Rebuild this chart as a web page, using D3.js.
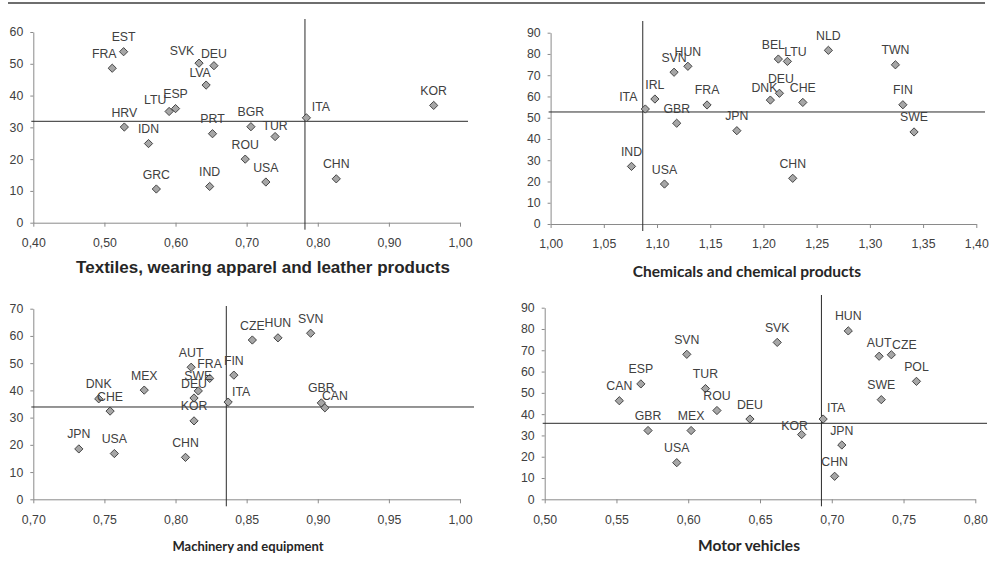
<!DOCTYPE html>
<html>
<head>
<meta charset="utf-8">
<script src="https://cdn.jsdelivr.net/npm/d3@7"></script>
<style>
  html, body { margin: 0; padding: 0; background: #fff; }
  svg { display: block; }
  .tick text, .pt-label { font-family: "Liberation Sans", Arial, sans-serif; fill: #404040; }
</style>
</head>
<body>
<script>
// ---- Textiles, wearing apparel and leather products ----
const textilesCodes = ["EST","FRA","SVK","DEU","LVA","LTU","ESP","HRV","IDN","PRT","GRC","IND","BGR","TUR","ROU","USA","ITA","CHN","KOR"];
const textilesX = [0.527,0.511,0.633,0.654,0.643,0.591,0.600,0.528,0.562,0.652,0.573,0.648,0.706,0.740,0.698,0.727,0.784,0.826,0.963];
const textilesY = [53.8,48.6,50.2,49.4,43.3,35.0,35.9,30.1,24.9,28.0,10.6,11.4,30.2,27.1,20.0,12.8,33.0,13.8,36.9];
const textilesRef = [0.782, 31.9];
const textilesXTicks = [0.40,0.50,0.60,0.70,0.80,0.90,1.00];
const textilesYTicks = [0,10,20,30,40,50,60];

// ---- Chemicals and chemical products ----
const chemicalsCodes = ["ITA","IRL","SVN","HUN","FRA","GBR","JPN","IND","USA","BEL","LTU","NLD","TWN","DNK","DEU","CHE","FIN","SWE","CHN"];
const chemicalsX = [1.089,1.098,1.116,1.129,1.147,1.1185,1.175,1.076,1.107,1.214,1.2225,1.261,1.324,1.2065,1.215,1.237,1.331,1.3415,1.2275];
const chemicalsY = [54.1,58.8,71.4,74.2,56.0,47.4,43.9,27.1,18.8,77.6,76.5,81.7,74.9,58.3,61.5,57.2,56.1,43.3,21.5];
const chemicalsRef = [1.0866, 52.7];
const chemicalsXTicks = [1.00,1.05,1.10,1.15,1.20,1.25,1.30,1.35,1.40];
const chemicalsYTicks = [0,10,20,30,40,50,60,70,80,90];

// ---- Machinery and equipment ----
const machineryCodes = ["JPN","USA","DNK","CHE","MEX","AUT","FRA","SWE","DEU","KOR","CHN","FIN","ITA","CZE","HUN","SVN","GBR","CAN"];
const machineryX = [0.732,0.757,0.746,0.754,0.778,0.811,0.824,0.816,0.813,0.813,0.807,0.841,0.837,0.854,0.872,0.895,0.9025,0.905];
const machineryY = [18.5,16.8,36.9,32.4,40.1,48.5,44.4,39.8,37.2,28.8,15.4,45.6,35.7,58.5,59.3,61.0,35.4,33.6];
const machineryRef = [0.8357, 33.9];
const machineryXTicks = [0.70,0.75,0.80,0.85,0.90,0.95,1.00];
const machineryYTicks = [0,10,20,30,40,50,60,70];

// ---- Motor vehicles ----
const motorCodes = ["CAN","ESP","SVN","TUR","ROU","GBR","MEX","USA","DEU","SVK","HUN","AUT","CZE","POL","SWE","ITA","KOR","JPN","CHN"];
const motorX = [0.552,0.567,0.599,0.612,0.620,0.572,0.602,0.592,0.643,0.662,0.7115,0.733,0.7415,0.759,0.7345,0.694,0.679,0.707,0.702];
const motorY = [46.3,54.2,68.1,52.0,41.7,32.3,32.3,17.2,37.7,73.7,79.1,67.2,67.9,55.4,46.8,37.7,30.4,25.5,10.8];
const motorRef = [0.6928, 35.7];
const motorXTicks = [0.50,0.55,0.60,0.65,0.70,0.75,0.80];
const motorYTicks = [0,10,20,30,40,50,60,70,80,90];

const W = 991, H = 576;
const svg = d3.select("body").append("svg").attr("width", W).attr("height", H);

// rule along the top of the figure
svg.append("line")
  .attr("x1", 8).attr("x2", 985).attr("y1", 3).attr("y2", 3)
  .attr("stroke", "#6e6e6e").attr("stroke-width", 2);

const commaFmt = v => d3.format(".2f")(v).replace(".", ",");

const panels = [
  {
    title: "Textiles, wearing apparel and leather products",
    titleFont: "bold 17px 'Liberation Sans', Arial, sans-serif", titleX: 263, titleY: 273,
    codes: textilesCodes, xs: textilesX, ys: textilesY, ref: textilesRef,
    xTicks: textilesXTicks, yTicks: textilesYTicks,
    left: 33.3, right: 460, top: 32, bottom: 222.7, hEnd: 468, vTop: 19,
    nudge: { FRA: [-8, 0], SVK: [-17, 2.5], DEU: [0, 2.5], LVA: [-6, 2.5], LTU: [-14, 3.5], TUR: [0, 3.5], ITA: [14.5, 3.5] }
  },
  {
    title: "Chemicals and chemical products",
    titleFont: "bold 15.5px Lato, 'Open Sans', sans-serif", titleX: 747, titleY: 277,
    codes: chemicalsCodes, xs: chemicalsX, ys: chemicalsY, ref: chemicalsRef,
    xTicks: chemicalsXTicks, yTicks: chemicalsYTicks,
    left: 550.6, right: 976.3, top: 32.7, bottom: 224, hEnd: 985, vTop: 21,
    nudge: { ITA: [-17, 2.5], DNK: [-6, 2.5], BEL: [-5, 0], LTU: [8, 5.5], DEU: [1.5, 0] }
  },
  {
    title: "Machinery and equipment",
    titleFont: "bold 13px Lato, 'Open Sans', sans-serif", titleX: 248, titleY: 551,
    codes: machineryCodes, xs: machineryX, ys: machineryY, ref: machineryRef,
    xTicks: machineryXTicks, yTicks: machineryYTicks,
    left: 33.3, right: 460, top: 308.7, bottom: 499.3, hEnd: 474, vTop: 306,
    nudge: { ITA: [13, 4], CAN: [10, 2.5] }
  },
  {
    title: "Motor vehicles",
    titleFont: "bold 15.5px Lato, 'Open Sans', sans-serif", titleX: 749, titleY: 551,
    codes: motorCodes, xs: motorX, ys: motorY, ref: motorRef,
    xTicks: motorXTicks, yTicks: motorYTicks,
    left: 544.7, right: 975.3, top: 307.7, bottom: 499.3, hEnd: 987, vTop: 295,
    nudge: { CZE: [13, 5], ITA: [13, 3.5], KOR: [-7, 5.5], AUT: [0, 1] }
  }
];

const diamond = d3.symbol().type(d3.symbolSquare).size(34);

panels.forEach(p => {
  const xDom = d3.extent(p.xTicks), yDom = d3.extent(p.yTicks);
  const x = d3.scaleLinear().domain(xDom).range([p.left, p.right]);
  const y = d3.scaleLinear().domain(yDom).range([p.bottom, p.top]);
  const g = svg.append("g");

  // axes
  const gx = g.append("g").attr("transform", `translate(0,${p.bottom})`)
    .call(d3.axisBottom(x).tickValues(p.xTicks).tickFormat(commaFmt)
      .tickSize(4).tickSizeOuter(0).tickPadding(11.5));
  const gy = g.append("g").attr("transform", `translate(${p.left},0)`)
    .call(d3.axisLeft(y).tickValues(p.yTicks).tickFormat(d3.format("d"))
      .tickSize(3).tickSizeOuter(0).tickPadding(7));
  [gx, gy].forEach(a => {
    a.select(".domain").attr("stroke", "#8a8a8a");
    a.selectAll(".tick line").attr("stroke", "#8a8a8a");
    a.selectAll(".tick text").style("font-size", "12.3px");
  });

  // reference lines
  g.append("line")
    .attr("x1", p.left - 2).attr("x2", p.hEnd)
    .attr("y1", y(p.ref[1])).attr("y2", y(p.ref[1]))
    .attr("stroke", "#2b2b2b").attr("stroke-width", 1);
  g.append("line")
    .attr("x1", x(p.ref[0])).attr("x2", x(p.ref[0]))
    .attr("y1", p.vTop).attr("y2", p.bottom + 7)
    .attr("stroke", "#2b2b2b").attr("stroke-width", 1);

  // points
  const pts = p.codes.map((c, i) => ({ code: c, x: p.xs[i], y: p.ys[i] }));
  g.selectAll("path.pt").data(pts).join("path")
    .attr("class", "pt")
    .attr("d", diamond)
    .attr("transform", d => `translate(${x(d.x)},${y(d.y)}) rotate(45)`)
    .attr("fill", "#a6a6a6").attr("stroke", "#3f3f3f").attr("stroke-width", 0.9);

  // point labels
  g.selectAll("text.pt-label").data(pts).join("text")
    .attr("class", "pt-label")
    .attr("text-anchor", "middle")
    .style("font-size", "12.3px")
    .attr("x", d => x(d.x) + (p.nudge[d.code] ? p.nudge[d.code][0] : 0))
    .attr("y", d => y(d.y) - 10.5 + (p.nudge[d.code] ? p.nudge[d.code][1] : 0))
    .text(d => d.code);

  // panel title
  g.append("text")
    .attr("x", p.titleX).attr("y", p.titleY)
    .attr("text-anchor", "middle")
    .style("font", p.titleFont)
    .attr("fill", "#262626")
    .text(p.title);
});
</script>
</body>
</html>
